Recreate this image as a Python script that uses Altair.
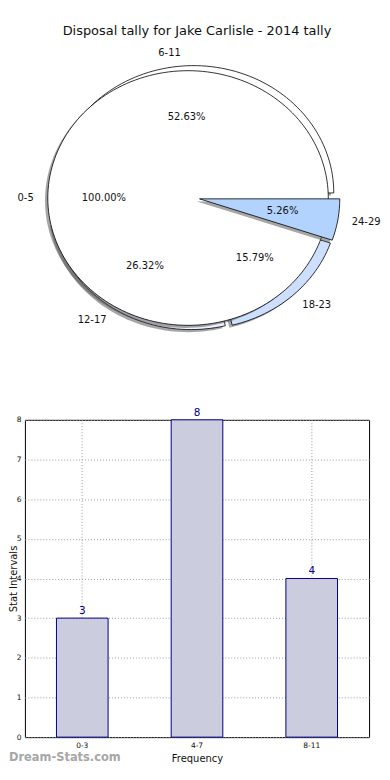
import altair as alt
import numpy as np
import pandas as pd

# ---------------- data ----------------
title_text = "Disposal tally for Jake Carlisle - 2014 tally"
pie_bins = ["0-5", "6-11", "12-17", "18-23", "24-29"]
pie_pcts = [100.00, 52.63, 26.32, 15.79, 5.26]
pie_fills = ["#ffffff", "#ffffff", "#eef3ff", "#cddfff", "#b3d3ff"]

bar_bins = ["0-3", "4-7", "8-11"]
bar_counts = [3, 8, 4]

watermark = "Dream-Stats.com"

# ---------------- pie geometry (built from the values) ----------------
R = 1.0
DISK_C = (0.0, 0.0)
PIE_C = (0.0425, 0.0)
EXPLODE = 0.04
SHADOW = (-0.02, -0.02)

poly_rows = []
label_rows = []


def add_wedge(name, layer, cx, cy, a0, a1, fill):
    span = a1 - a0
    n = max(8, int(span / 2))
    angs = np.radians(np.linspace(a0, a1, n + 1))
    arc = [(cx + R * np.cos(a), cy + R * np.sin(a)) for a in angs]
    if span >= 359.999:
        pts = arc
    else:
        pts = [(cx, cy)] + arc + [(cx, cy)]
    for i, (x, y) in enumerate(pts):
        poly_rows.append(dict(poly=name, layer=layer, i=i, x=x, y=y, fill=fill))


# full disk slice (0-5)
add_wedge("s_0-5", "s1", DISK_C[0] + SHADOW[0], DISK_C[1] + SHADOW[1], 0, 360, "#4d4d4d")
add_wedge("p_0-5", "p1", DISK_C[0], DISK_C[1], 0, 360, pie_fills[0])
label_rows.append(dict(kind="cat", text=pie_bins[0], x=DISK_C[0] - 1.1, y=DISK_C[1], side="right"))
label_rows.append(dict(kind="pct", text=f"{pie_pcts[0]:.2f}%", x=DISK_C[0] - 0.6, y=DISK_C[1], side="center"))

# the other slices
shares = pie_pcts[1:]
total = sum(shares)
start = 0.0
for k, (b, p, f) in enumerate(zip(pie_bins[1:], shares, pie_fills[1:])):
    span = 360.0 * p / total
    mid = np.radians(start + span / 2)
    cx = PIE_C[0] + EXPLODE * np.cos(mid)
    cy = PIE_C[1] + EXPLODE * np.sin(mid)
    last = k == len(shares) - 1
    add_wedge("s_" + b, "s3" if last else "s2", cx + SHADOW[0], cy + SHADOW[1], start, start + span, "#4d4d4d")
    add_wedge("p_" + b, "p3" if last else "p2", cx, cy, start, start + span, f)
    lx = PIE_C[0] + (EXPLODE + 1.1) * np.cos(mid)
    ly = PIE_C[1] + (EXPLODE + 1.1) * np.sin(mid)
    label_rows.append(dict(kind="cat", text=b, x=lx, y=ly, side="left" if lx > 0 else "right"))
    px = PIE_C[0] + (EXPLODE + 0.6) * np.cos(mid)
    py = PIE_C[1] + (EXPLODE + 0.6) * np.sin(mid)
    label_rows.append(dict(kind="pct", text=f"{p:.2f}%", x=px, y=py, side="center"))
    start += span

poly_df = pd.DataFrame(poly_rows)
label_df = pd.DataFrame(label_rows)

# pixel layout of the pie panel: 141 px per unit across, 128 px per unit down
LEFT = 24          # page x of both panels' left edge
PIE_W, PIE_H = 370 - LEFT, 320
xmin = -(188 - LEFT) / 141.0
xmax = xmin + PIE_W / 141.0
ymax = (198 - 45) / 128.0
ymin = ymax - PIE_H / 128.0
xs = alt.Scale(domain=[xmin, xmax], nice=False, zero=False)
ys = alt.Scale(domain=[ymin, ymax], nice=False, zero=False)

FONT = "DejaVu Sans"


def poly_layer(layer_name, shadow):
    base = alt.Chart(poly_df).transform_filter(alt.datum.layer == layer_name)
    if shadow:
        mk = base.mark_line(stroke="transparent", fillOpacity=0.5, strokeWidth=0)
    else:
        mk = base.mark_line(stroke="black", strokeWidth=0.8, strokeJoin="miter")
    return mk.encode(
        x=alt.X("x:Q", scale=xs, axis=None),
        y=alt.Y("y:Q", scale=ys, axis=None),
        order=alt.Order("i:Q"),
        detail="poly:N",
        fill=alt.Fill("fill:N", scale=None, legend=None),
    )


def label_layer(kind, side):
    base = alt.Chart(label_df).transform_filter(
        (alt.datum.kind == kind) & (alt.datum.side == side)
    )
    return base.mark_text(
        align=side, baseline="middle", fontSize=10, font=FONT, color="#111111"
    ).encode(
        x=alt.X("x:Q", scale=xs, axis=None),
        y=alt.Y("y:Q", scale=ys, axis=None),
        text="text:N",
    )


pie = alt.layer(
    poly_layer("s2", True),
    poly_layer("p2", False),
    poly_layer("s1", True),
    poly_layer("p1", False),
    poly_layer("s3", True),
    poly_layer("p3", False),
    label_layer("cat", "left"),
    label_layer("cat", "right"),
    label_layer("pct", "center"),
).properties(
    width=PIE_W,
    height=PIE_H,
    view=alt.ViewBackground(stroke="transparent"),
    title=alt.TitleParams(
        title_text, anchor="middle", fontSize=13, font=FONT, fontWeight="normal",
        color="#111111", offset=8,
    ),
)

# ---------------- bar chart ----------------
bar_df = pd.DataFrame({"bin": bar_bins, "count": bar_counts})
BAR_W, BAR_H = 370 - LEFT, 319

xb = alt.X(
    "bin:N",
    sort=bar_bins,
    scale=alt.Scale(paddingInner=0.55, paddingOuter=0.275),
    axis=alt.Axis(
        title="Frequency", labelAngle=0, labelFontSize=7.5, labelFont=FONT,
        labelColor="#111111", titleFont=FONT, titleFontSize=10, titleFontWeight="normal",
        titleColor="#111111", grid=True, gridDash=[1, 2], gridColor="#9a9a9a",
        ticks=False, domain=False, bandPosition=0.5, labelPadding=4, titlePadding=5,
    ),
)
yb = alt.Y(
    "count:Q",
    scale=alt.Scale(domain=[0, 8], nice=False),
    axis=alt.Axis(
        title="Stat Intervals", values=list(range(9)), labelFontSize=7.5, labelFont=FONT,
        labelColor="#111111", titleFont=FONT, titleFontSize=10, titleFontWeight="normal",
        titleColor="#111111", grid=True, gridDash=[1, 2], gridColor="#9a9a9a",
        ticks=False, domain=False, labelPadding=4, titleX=-8, titleY=BAR_H / 2,
        titleAngle=270, titleBaseline="alphabetic", titleAlign="center",
    ),
)

bars = alt.Chart(bar_df).mark_bar(
    fill="#ccccdf", stroke="#000080", strokeWidth=1
).encode(x=xb, y=yb)

bar_text = alt.Chart(bar_df).mark_text(
    dy=-4, baseline="alphabetic", color="#000080", fontSize=10.5, font=FONT
).encode(x=xb, y=yb, text="count:Q")

wm = alt.Chart(pd.DataFrame({"t": [watermark]})).mark_text(
    align="left", baseline="middle", fontSize=11.5, font=FONT, fontWeight="bold",
    color="#a6a6a6",
).encode(x=alt.value(-(LEFT - 8)), y=alt.value(BAR_H + 21), text="t:N")

bar = alt.layer(bars, bar_text, wm).properties(
    width=BAR_W,
    height=BAR_H,
    view=alt.ViewBackground(stroke="black", strokeWidth=1),
)

chart = (
    alt.vconcat(pie, bar, spacing=56, bounds="flush")
    .properties(padding={"left": 0, "right": 0, "top": 14, "bottom": 0}, background="white")
    .configure(font=FONT)
)

chart.save("out.html", embed_options={"renderer": "svg", "actions": False})
